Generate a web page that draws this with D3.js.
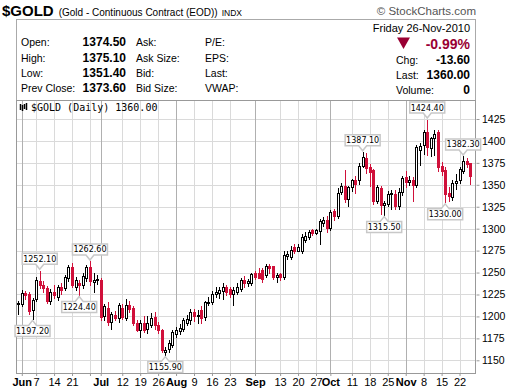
<!DOCTYPE html>
<html><head><meta charset="utf-8">
<script src="https://cdn.jsdelivr.net/npm/d3@7"></script>
<style>
body{margin:0;background:#fff}
svg{display:block}
</style></head>
<body><svg id="c" width="520" height="391" font-family="'Liberation Sans',Arial,sans-serif"></svg>
<script>
// ---- data ----
const dates = [
"2010-05-28",
"2010-06-01","2010-06-02","2010-06-03","2010-06-04","2010-06-07","2010-06-08","2010-06-09","2010-06-10","2010-06-11",
"2010-06-14","2010-06-15","2010-06-16","2010-06-17","2010-06-18","2010-06-21","2010-06-22","2010-06-23","2010-06-24","2010-06-25",
"2010-06-28","2010-06-29","2010-06-30",
"2010-07-01","2010-07-02","2010-07-06","2010-07-07","2010-07-08","2010-07-09","2010-07-12","2010-07-13","2010-07-14","2010-07-15",
"2010-07-16","2010-07-19","2010-07-20","2010-07-21","2010-07-22","2010-07-23","2010-07-26","2010-07-27","2010-07-28","2010-07-29","2010-07-30",
"2010-08-02","2010-08-03","2010-08-04","2010-08-05","2010-08-06","2010-08-09","2010-08-10","2010-08-11","2010-08-12","2010-08-13",
"2010-08-16","2010-08-17","2010-08-18","2010-08-19","2010-08-20","2010-08-23","2010-08-24","2010-08-25","2010-08-26","2010-08-27",
"2010-08-30","2010-08-31",
"2010-09-01","2010-09-02","2010-09-03","2010-09-07","2010-09-08","2010-09-09","2010-09-10","2010-09-13","2010-09-14","2010-09-15",
"2010-09-16","2010-09-17","2010-09-20","2010-09-21","2010-09-22","2010-09-23","2010-09-24","2010-09-27","2010-09-28","2010-09-29","2010-09-30",
"2010-10-01","2010-10-04","2010-10-05","2010-10-06","2010-10-07","2010-10-08","2010-10-11","2010-10-12","2010-10-13","2010-10-14",
"2010-10-15","2010-10-18","2010-10-19","2010-10-20","2010-10-21","2010-10-22","2010-10-25","2010-10-26","2010-10-27","2010-10-28","2010-10-29",
"2010-11-01","2010-11-02","2010-11-03","2010-11-04","2010-11-05","2010-11-08","2010-11-09","2010-11-10","2010-11-11","2010-11-12",
"2010-11-15","2010-11-16","2010-11-17","2010-11-18","2010-11-19","2010-11-22","2010-11-23","2010-11-24","2010-11-26"
];
const open = [
1214,
1214,1227,1225,1207,1220,1240,1236,1232,1218,1228,1222,1234,1232,1244,1256,1234,1238,1236,1244,1256,1239,1241,
1242,1200,1210,1194,1202,1198,1210,1198,1213,1210,1193,1184,1193,1186,1190,1199,1190,1184,1159,1163,1167,
1180,1183,1186,1193,1196,1205,1200,1207,1199,1215,1216,1225,1227,1229,1233,1231,1226,1228,1231,1242,1238,1238,
1249,1249,1253,1247,1257,1257,1245,1248,1245,1269,1268,1279,1275,1274,1287,1291,1298,1295,1297,1307,1310,
1301,1320,1314,1342,1349,1334,1348,1355,1355,1372,1381,1370,1367,1332,1346,1327,1328,1339,1340,1326,1342,
1359,1353,1356,1350,1390,1395,1410,1392,1403,1410,1372,1367,1341,1336,1352,1355,1366,1377,1374.5
];
const high = [
1218,
1230,1229,1228,1221,1245,1252.1,1240,1235,1231,1236,1236,1238,1247,1259,1261,1245,1242,1250,1259,1262.6,1249,1247,
1244,1214,1216,1205,1206,1215,1214,1220,1218,1212,1196,1196,1200,1201,1204,1205,1194,1186,1165,1173,1185,
1188,1191,1198,1202,1208,1209,1207,1212,1218,1222,1229,1234,1234,1238,1236,1234,1233,1238,1244,1246,1243,1250,
1252,1255,1255,1260,1260,1258,1249,1250,1274,1274,1280,1282,1282,1294,1296,1298,1300,1300,1311,1313,1314,
1321,1322,1346,1352,1367,1349,1357,1360,1375,1387.1,1386,1374,1368,1350,1349,1331,1343,1344,1344,1346,1360,
1366,1360,1359,1395,1398,1413,1424.4,1405,1412,1412,1376,1370,1347,1356,1362,1370,1382.3,1381,1375.1
];
const low = [
1203,
1212,1220,1203,1197.2,1218,1232,1228,1215,1214,1221,1219,1226,1230,1240,1233,1230,1224.4,1232,1240,1236,1228,1237,
1196,1196,1190,1186,1196,1194,1197,1196,1205,1190,1183,1177,1182,1181,1188,1186,1181,1160,1155.9,1160,1165,
1177,1180,1183,1190,1191,1195,1193,1192,1196,1213,1214,1222,1221,1220,1224,1222,1213,1225,1229,1234,1235,1236,
1243,1244,1239,1245,1249,1243,1239,1242,1243,1266,1266,1272,1274,1272,1285,1288,1293,1294,1283,1303,1296,
1298,1310,1312,1339,1330,1326,1343,1341,1351,1370,1363,1349,1328,1329,1317,1315.5,1326,1323,1323,1322,1338,
1347,1350,1331,1348,1373,1385,1384,1383,1384,1366,1361,1330,1332,1333,1345,1352,1363,1370,1351.4
];
const close = [
1215,
1227,1224,1206,1219,1241,1236,1232,1218,1228,1224,1234,1230,1245,1256,1236,1241,1236,1246,1256,1240,1241,1243,
1199,1212,1194,1203,1198,1213,1199,1213,1209,1193,1185,1193,1184,1193,1198,1190,1184,1162,1162,1170,1182,
1185,1187,1196,1197,1205,1200,1202,1198,1216,1217,1226,1228,1230,1233,1228,1226,1230,1233,1242,1238,1240,1248,
1245,1244,1243,1257,1255,1245,1247,1245,1270,1271,1276,1275,1279,1291,1292,1296,1295,1298,1309,1310,1301,
1319,1314,1341,1349,1334,1347,1355,1351,1372,1382,1369,1365,1331,1348,1327,1329,1340,1341,1326,1342,1358,
1353,1356,1350,1393,1394,1410,1393,1403,1408,1370,1366,1340,1337,1352,1354,1368,1377,1373.6,1360
];
const yTicks = [1150,1175,1200,1225,1250,1275,1300,1325,1350,1375,1400,1425];
const xTickDates = ["2010-06-01","2010-06-07","2010-06-14","2010-06-21","2010-06-28",
 "2010-07-01","2010-07-12","2010-07-19","2010-07-26",
 "2010-08-02","2010-08-09","2010-08-16","2010-08-23",
 "2010-09-01","2010-09-13","2010-09-20","2010-09-27",
 "2010-10-01","2010-10-11","2010-10-18","2010-10-25",
 "2010-11-01","2010-11-08","2010-11-15","2010-11-22"];
const xTickLabels = ["Jun","7","14","21","","Jul","12","19","26","Aug","9","16","23","Sep","13","20","27","Oct","11","18","25","Nov","8","15","22"];
const monthTicks = ["2010-06-01","2010-07-01","2010-08-02","2010-09-01","2010-10-01","2010-11-01"];
const calloutDates  = ["2010-06-08","2010-06-04","2010-06-28","2010-06-23","2010-07-28","2010-10-14","2010-10-22","2010-11-09","2010-11-16","2010-11-23"];
const calloutValues = [1252.10,1197.20,1262.60,1224.40,1155.90,1387.10,1315.50,1424.40,1330.00,1382.30];
const calloutSide   = ["up","down","up","down","down","up","down","up","down","up"];

// ---- drawing ----
const svg = d3.select("#c");
const P = {l:16, r:476, t:100, b:373};
const RED = "#d0103a", DARKRED = "#990033";
const fmt2 = v => d3.format(".2f")(v).replace("\u2212", "-");
const x = d3.scalePoint().domain(dates).range([18.2, 470.3]);
const y = d3.scaleLinear().domain([1150, 1425]).range([360.3, 119]);
const h = v => Math.round(v) + 0.5;

// title
const t = svg.append("text").attr("x", 2).attr("y", 16);
t.append("tspan").attr("font-weight", "bold").attr("font-size", "15px").text("$GOLD");
t.append("tspan").attr("font-size", "10px").attr("dx", 5).text("(Gold - Continuous Contract (EOD))");
t.append("tspan").attr("font-size", "8.5px").attr("dx", 4).text("INDX");
svg.append("text").attr("x", 476).attr("y", 15).attr("text-anchor", "end")
  .attr("font-size", "11.5px").attr("fill", "#555").text("\u00A9 StockCharts.com");

// header box
svg.append("rect").attr("x", 16.5).attr("y", 19.5).attr("width", 459).attr("height", 81)
  .attr("fill", "#fff").attr("stroke", "#aaa");
const rowsY = [46, 62, 77, 92];
const lab1 = ["Open:","High:","Low:","Prev Close:"];
const val1 = [open[open.length-1], high[high.length-1], low[low.length-1], close[close.length-2]];
const lab2 = ["Ask:","Ask Size:","Bid:","Bid Size:"];
const lab3 = ["P/E:","EPS:","Last:","VWAP:"];
rowsY.forEach((yy, i) => {
  svg.append("text").attr("x", 21).attr("y", yy).attr("font-size", "10.5px").text(lab1[i]);
  svg.append("text").attr("x", 126).attr("y", yy).attr("text-anchor", "end").attr("font-size", "12px")
    .attr("font-weight", "bold").text(fmt2(val1[i]));
  svg.append("text").attr("x", 136).attr("y", yy).attr("font-size", "10.5px").text(lab2[i]);
  svg.append("text").attr("x", 205).attr("y", yy).attr("font-size", "10.5px").text(lab3[i]);
});
const last = close[close.length-1], prev = close[close.length-2];
svg.append("text").attr("x", 470).attr("y", 32).attr("text-anchor", "end").attr("font-size", "11px")
  .text("Friday  26-Nov-2010");
svg.append("path").attr("d", "M397,37.5 L410,37.5 L403.5,49 Z").attr("fill", DARKRED);
svg.append("text").attr("x", 470).attr("y", 49).attr("text-anchor", "end").attr("font-size", "14px")
  .attr("font-weight", "bold").attr("fill", DARKRED).text(fmt2((last - prev) / prev * 100) + "%");
const rLab = ["Chg:","Last:","Volume:"], rVal = [fmt2(last - prev), fmt2(last), "0"];
[64, 79, 94].forEach((yy, i) => {
  svg.append("text").attr("x", 396).attr("y", yy).attr("font-size", "10.5px").text(rLab[i]);
  svg.append("text").attr("x", 470).attr("y", yy).attr("text-anchor", "end").attr("font-size", "12px")
    .attr("font-weight", "bold").text(rVal[i]);
});

// plot background & grid
svg.append("rect").attr("x", P.l).attr("y", P.t).attr("width", P.r - P.l).attr("height", P.b - P.t).attr("fill", "#fff");
const grid = svg.append("g");
yTicks.forEach(v => grid.append("line").attr("x1", P.l).attr("x2", P.r).attr("y1", h(y(v))).attr("y2", h(y(v)))
  .attr("stroke", "#dadada"));
xTickDates.forEach(d => grid.append("line").attr("x1", h(x(d))).attr("x2", h(x(d))).attr("y1", P.t).attr("y2", P.b)
  .attr("stroke", monthTicks.includes(d) ? "#b0b0b0" : "#dadada"));

// candles
const g = svg.append("g");
dates.forEach((d, i) => {
  const o = open[i], c = close[i], hi = high[i], lo = low[i];
  const pc = i > 0 ? close[i-1] : o;
  const col = c < pc ? RED : "#000";
  const cx = Math.round(x(d));
  g.append("line").attr("x1", cx + 0.5).attr("x2", cx + 0.5)
    .attr("y1", Math.round(y(hi))).attr("y2", Math.round(y(lo)) + 1).attr("stroke", col);
  const top = h(y(Math.max(o, c))), bot = h(y(Math.min(o, c)));
  g.append("rect").attr("x", cx - 0.5).attr("y", top).attr("width", 2).attr("height", Math.max(0, bot - top))
    .attr("fill", c > o ? "#fff" : col).attr("stroke", col);
});

// frame
svg.append("rect").attr("x", P.l + 0.5).attr("y", P.t + 0.5).attr("width", P.r - P.l - 1).attr("height", P.b - P.t)
  .attr("fill", "none").attr("stroke", "#999");

// axes
const ya = svg.append("g").attr("transform", `translate(${P.r},0)`)
  .call(d3.axisRight(y).tickValues(yTicks).tickSize(3).tickPadding(3).tickFormat(d3.format("d")));
ya.select(".domain").remove();
ya.selectAll("line").attr("stroke", "#999").attr("transform", "translate(0.5,0)");
ya.selectAll("text").attr("font-family", "'Liberation Sans',Arial,sans-serif").attr("font-size", "10.5px").attr("fill", "#000");
const xa = svg.append("g").attr("transform", `translate(0,${P.b})`)
  .call(d3.axisBottom(x).tickValues(xTickDates).tickSize(3).tickPadding(2)
    .tickFormat((d, i) => xTickLabels[i]));
xa.select(".domain").remove();
xa.selectAll("line").attr("stroke", "#999");
xa.selectAll("text").attr("font-family", "'Liberation Sans',Arial,sans-serif").attr("font-size", "11px").attr("fill", "#000")
  .attr("font-weight", d => monthTicks.includes(d) ? "bold" : "normal");

// legend
const lg = svg.append("g");
[[20,104,110],[22,105,111],[24,104,109],[26,103,110]].forEach(a =>
  lg.append("line").attr("x1", a[0] + 0.5).attr("x2", a[0] + 0.5).attr("y1", a[1]).attr("y2", a[2]).attr("stroke", "#000").attr("stroke-width", 1.5));
svg.append("text").attr("x", 31).attr("y", 111).style("font-family", "'DejaVu Sans Mono',monospace")
  .attr("font-size", "10px").text("$GOLD (Daily) " + fmt2(last));

// callouts
calloutDates.forEach((d, i) => {
  const cx = x(d), v = calloutValues[i], up = calloutSide[i] === "up";
  const yy = y(v);
  const w = 35, hh = 11, gap = 5;
  const tip = up ? yy - 1.5 : yy + 1.5;
  const edge = up ? tip - gap : tip + gap;
  const far = up ? edge - hh : edge + hh;
  const L = cx - w / 2, R = cx + w / 2;
  const path = `M${L},${edge} L${cx - 4},${edge} L${cx},${tip} L${cx + 4},${edge} L${R},${edge} L${R},${far} L${L},${far} Z`;
  svg.append("path").attr("d", path).attr("fill", "#fff").attr("stroke", "#c8c8c8").attr("stroke-width", 1.5);
  svg.append("text").attr("x", cx).attr("y", (edge + far) / 2 + 3).attr("text-anchor", "middle")
    .style("font-family", "'DejaVu Sans',sans-serif").attr("font-size", "8px").text(fmt2(v));
});
</script></body></html>
